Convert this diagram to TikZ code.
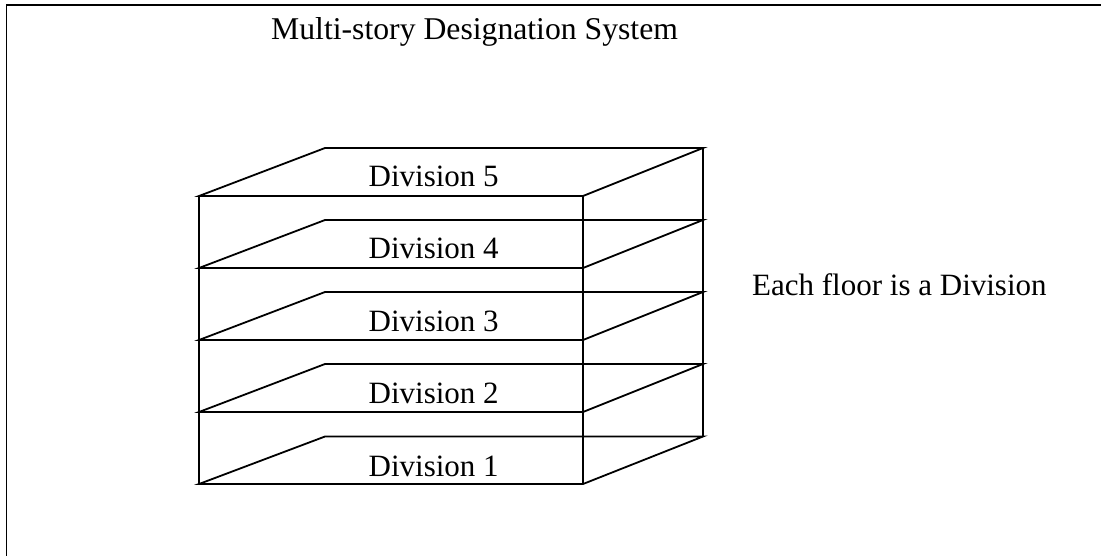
\documentclass[tikz,border=0pt]{standalone}
\usepackage{fontspec}
\setmainfont{Liberation Serif}
\begin{document}
\begin{tikzpicture}[x=1pt,y=-1pt,
  edge/.style={line width=1.8pt,line join=miter},
  lbl/.style={font=\fontsize{31}{36}\selectfont,inner sep=0pt,anchor=base west}]
\useasboundingbox (0,0) rectangle (1101,555);
% frame (top and left sides)
\coordinate (frameBL) at (6.5,557);
\coordinate (frameTL) at (6.5,4.7);
\coordinate (frameTR) at (1103,4.7);
\draw[edge] (frameBL) -- (frameTL) -- (frameTR);
% title
\node[lbl,font=\fontsize{31.7}{36}\selectfont] (title) at (271,39) {Multi-story Designation System};
% floors: front edge, right slant, back edge, left slant
\foreach \i/\yf/\yb in {1/484/436.5,2/412/364,3/340/292,4/268/220,5/196/148}{
  \coordinate (fl\i) at (199,\yf);
  \coordinate (fr\i) at (583,\yf);
  \coordinate (br\i) at (703,\yb);
  \coordinate (bl\i) at (325,\yb);
  \draw[edge] (fl\i) -- (fr\i) -- (br\i) -- (bl\i) -- cycle;
}
% uprights
\draw[edge] (fl5) -- (fl1);
\draw[edge] (fr5) -- (fr1);
\draw[edge] (br5) -- (br1);
% floor labels
\node[lbl] (d5) at (368.5,186) {Division 5};
\node[lbl] (d4) at (368.5,258.5) {Division 4};
\node[lbl] (d3) at (368.5,331) {Division 3};
\node[lbl] (d2) at (368.5,403.5) {Division 2};
\node[lbl] (d1) at (368.5,476) {Division 1};
% side note
\node[lbl] (note) at (752,295) {Each floor is a Division};
\end{tikzpicture}
\end{document}
